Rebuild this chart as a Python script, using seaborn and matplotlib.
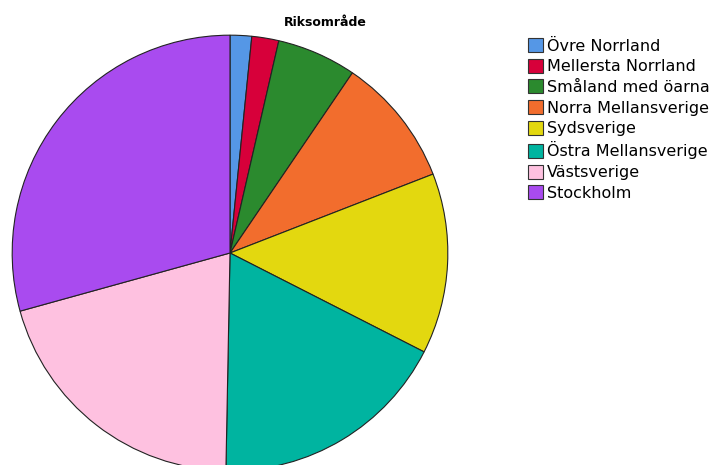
import matplotlib
matplotlib.use("Agg")
import matplotlib.pyplot as plt
from matplotlib.patches import Patch
import seaborn as sns

# Share per region (percent)
regions = ["Övre Norrland", "Mellersta Norrland", "Småland med öarna",
           "Norra Mellansverige", "Sydsverige", "Östra Mellansverige",
           "Västsverige", "Stockholm"]
shares = [1.6, 2.0, 5.9, 9.6, 13.4, 17.8, 20.4, 29.3]
colors = ["#5597e6", "#d7003a", "#2b8a2e", "#f26d2d",
          "#e3d80f", "#00b4a0", "#fec1e0", "#a94bef"]
title = "Riksområde"

sns.set_style("white")
plt.rcParams["font.family"] = ["DejaVu Sans"]
plt.rcParams["text.color"] = "black"
palette = sns.color_palette(colors)

W, H = 718, 465
fig = plt.figure(figsize=(W / 100, H / 100), dpi=100)

# pie centred at (230, 253) px, radius ~218 px
cx, cy, r = 230, 253, 220
ax = fig.add_axes([(cx - r) / W, (H - cy - r) / H, 2 * r / W, 2 * r / H])
ax.pie(shares, colors=palette, startangle=90, counterclock=False,
       wedgeprops=dict(edgecolor="#222222", linewidth=0.8), radius=1.0)
ax.set_xlim(-1.01, 1.01)
ax.set_ylim(-1.01, 1.01)
ax.set_aspect("equal")
ax.axis("off")

fig.text(325 / W, 1 - 22 / H, title, ha="center", va="center",
         fontsize=9, fontweight="bold", color="black")

handles = [Patch(facecolor=c, edgecolor="#333333", linewidth=0.8) for c in palette]
leg = fig.legend(handles, regions, loc="upper left",
                 bbox_to_anchor=(525 / W, 1 - 35 / H), frameon=False,
                 fontsize=11.5, handlelength=0.95, handleheight=0.95,
                 handletextpad=0.25, labelspacing=0.33, borderpad=0.2,
                 borderaxespad=0)
for t in leg.get_texts():
    t.set_color("black")

fig.savefig("out.png", dpi=100)
